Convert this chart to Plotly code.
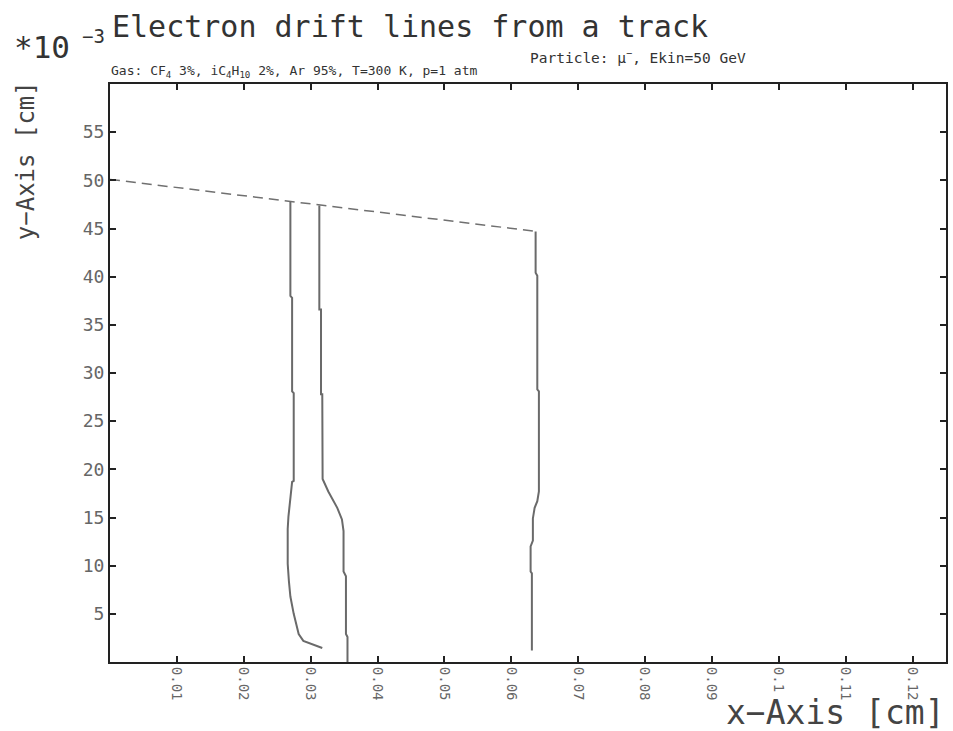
import plotly.graph_objects as go

# ---- data (x in cm, y in 1e-3 cm) ----
track_x = [0.0, 0.0637]
track_y = [50.1, 44.7]

line1_x = [0.02697, 0.02697, 0.02723, 0.02723, 0.02747, 0.02747, 0.02723, 0.02687, 0.02668, 0.02657,
           0.02657, 0.02675, 0.02697, 0.02747, 0.02787, 0.02821, 0.02891, 0.02996, 0.03095, 0.03174]
line1_y = [47.8, 38.0, 37.8, 28.1, 27.9, 18.8, 18.7, 16.5, 15.1, 13.8,
           10.2, 8.4, 6.8, 5.0, 3.7, 2.9, 2.2, 1.9, 1.6, 1.45]

line2_x = [0.03130, 0.03130, 0.03155, 0.03155, 0.03174, 0.03179, 0.03264, 0.03398, 0.03468, 0.03492,
           0.03492, 0.03528, 0.03528, 0.03551, 0.03551]
line2_y = [47.4, 36.6, 36.6, 27.8, 27.8, 19.0, 17.7, 16.0, 14.8, 13.6,
           9.4, 8.9, 2.9, 2.6, 0.0]

line3_x = [0.06364, 0.06364, 0.06389, 0.06389, 0.06413, 0.06413, 0.06389, 0.06349, 0.06323, 0.06323,
           0.06289, 0.06289, 0.06308, 0.06308]
line3_y = [44.7, 40.4, 40.1, 28.3, 28.1, 17.7, 16.7, 16.0, 14.9, 12.6,
           12.0, 9.4, 9.2, 1.2]

x_ticks = [0.01, 0.02, 0.03, 0.04, 0.05, 0.06, 0.07, 0.08, 0.09, 0.1, 0.11, 0.12]
x_ticklabels = ["0.01", "0.02", "0.03", "0.04", "0.05", "0.06", "0.07", "0.08", "0.09", "0.1", "0.11", "0.12"]
y_ticks = [5, 10, 15, 20, 25, 30, 35, 40, 45, 50, 55]
y_ticklabels = ["5", "10", "15", "20", "25", "30", "35", "40", "45", "50", "55"]

title_text = "Electron drift lines from a track"
gas_text = "Gas: CF<sub>4</sub> 3%, iC<sub>4</sub>H<sub>10</sub> 2%, Ar 95%, T=300 K, p=1 atm"
particle_text = "Particle: \u03bc<sup>\u2212</sup>, Ekin=50 GeV"

FONT = "DejaVu Sans Mono"
drift_color = "#6a6a6a"

fig = go.Figure()
fig.add_trace(go.Scatter(x=track_x, y=track_y, mode="lines",
                         line=dict(color="#707070", width=1.5, dash="10px,6px"), hoverinfo="skip"))
for xs, ys in [(line1_x, line1_y), (line2_x, line2_y), (line3_x, line3_y)]:
    fig.add_trace(go.Scatter(x=xs, y=ys, mode="lines",
                             line=dict(color=drift_color, width=2), hoverinfo="skip"))

axis_common = dict(showgrid=False, zeroline=False, showline=True, linecolor="#222",
                   linewidth=2, mirror="ticks", ticks="inside", ticklen=6, tickwidth=2,
                   tickcolor="#222")

fig.update_xaxes(range=[0, 0.125], tickvals=x_ticks, ticktext=x_ticklabels, tickangle=90,
                 tickfont=dict(family=FONT, size=14, color="#666"), **axis_common)
fig.update_yaxes(range=[0, 60], tickvals=y_ticks, ticktext=y_ticklabels,
                 tickfont=dict(family=FONT, size=18, color="#666"), **axis_common)

def px_to_paper(px, py):
    return (px - 110) / 838, (662 - py) / 578

annots = []
x, y = px_to_paper(110, 26)
annots.append(dict(x=x, y=y, text=title_text, xanchor="left", yanchor="middle",
                   font=dict(family=FONT, size=30, color="#333")))
x, y = px_to_paper(12, 47)
annots.append(dict(x=x, y=y, text="*10", xanchor="left", yanchor="middle",
                   font=dict(family=FONT, size=31, color="#333")))
x, y = px_to_paper(80, 36)
annots.append(dict(x=x, y=y, text="\u22123", xanchor="left", yanchor="middle",
                   font=dict(family=FONT, size=19, color="#333")))
x, y = px_to_paper(109, 71)
annots.append(dict(x=x, y=y, text=gas_text, xanchor="left", yanchor="middle",
                   font=dict(family=FONT, size=13, color="#333")))
x, y = px_to_paper(529, 57)
annots.append(dict(x=x, y=y, text=particle_text, xanchor="left", yanchor="middle",
                   font=dict(family=FONT, size=14.5, color="#333")))
x, y = px_to_paper(26, 161)
annots.append(dict(x=x, y=y, text="y\u2212Axis [cm]", textangle=-90, xanchor="center",
                   yanchor="middle", font=dict(family=FONT, size=24, color="#444")))
x, y = px_to_paper(949, 712)
annots.append(dict(x=x, y=y, text="x\u2212Axis [cm]", xanchor="right", yanchor="middle",
                   font=dict(family=FONT, size=33, color="#444")))
for a in annots:
    a.update(xref="paper", yref="paper", showarrow=False)

fig.update_layout(width=953, height=731, autosize=False,
                  margin=dict(l=110, r=5, t=84, b=69),
                  paper_bgcolor="white", plot_bgcolor="white",
                  showlegend=False, annotations=annots)

fig.write_html("out.html", config={"displayModeBar": False},
               post_script="document.body.style.margin='0';document.body.style.overflow='hidden';")
